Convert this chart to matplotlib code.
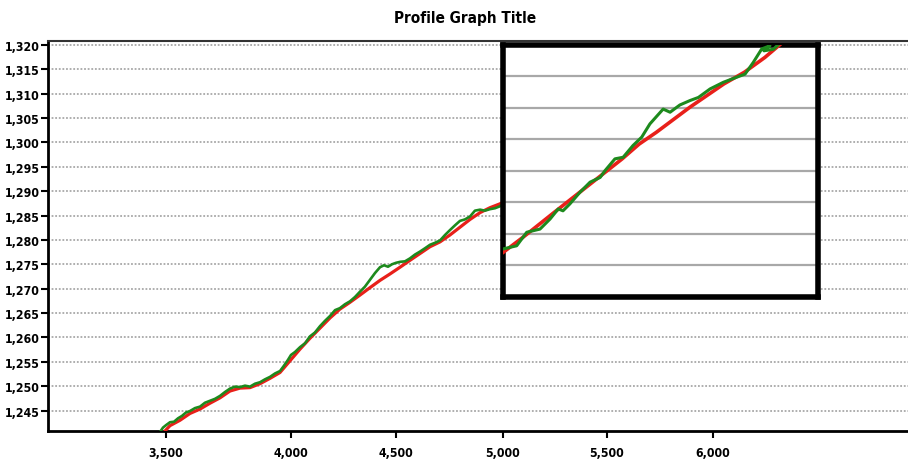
import numpy as np
import matplotlib
matplotlib.use("Agg")
import matplotlib.pyplot as plt
from matplotlib.ticker import FuncFormatter

# ---------------- data ----------------
title = "Profile Graph Title"
x_ticks = [3500, 4000, 4500, 5000, 5500, 6000]
y_ticks = [1245, 1250, 1255, 1260, 1265, 1270, 1275, 1280, 1285, 1290,
           1295, 1300, 1305, 1310, 1315, 1320]

green_x = [3476, 3488, 3500, 3516, 3532, 3548, 3564, 3580, 3596, 3616, 3636,
           3656, 3676, 3696, 3716, 3736, 3756, 3776, 3796, 3816, 3836, 3856,
           3876, 3896, 3916, 3936, 3956, 3972, 3988, 4000, 4019, 4043, 4067,
           4090, 4114, 4138, 4162, 4186, 4210, 4233, 4257, 4281, 4305, 4329,
           4352, 4376, 4400, 4424, 4443, 4462, 4481, 4500, 4519, 4542, 4565,
           4589, 4612, 4636, 4659, 4682, 4706, 4729, 4752, 4776, 4799, 4822,
           4846, 4869, 4893, 4916, 4939, 4963, 4986, 5033, 5079]
green_y = [1240.6, 1241.5, 1242.0, 1242.6, 1242.7, 1243.4, 1243.9, 1244.6,
           1244.9, 1245.5, 1245.8, 1246.6, 1247.0, 1247.4, 1248.0, 1248.8,
           1249.5, 1249.9, 1249.8, 1250.1, 1249.9, 1250.5, 1250.8, 1251.4,
           1251.9, 1252.6, 1253.1, 1254.2, 1255.4, 1256.4, 1257.0, 1258.0,
           1258.8, 1260.2, 1261.0, 1262.3, 1263.4, 1264.4, 1265.6, 1266.0,
           1266.8, 1267.4, 1268.3, 1269.4, 1270.4, 1271.8, 1273.2, 1274.4,
           1274.8, 1274.5, 1275.0, 1275.3, 1275.5, 1275.6, 1276.2, 1277.0,
           1277.6, 1278.3, 1279.0, 1279.4, 1279.9, 1281.0, 1282.0, 1283.0,
           1283.9, 1284.2, 1284.8, 1286.0, 1286.2, 1286.0, 1286.3, 1286.5,
           1286.9, 1288.0, 1289.5]

red_x = [3496, 3516, 3556, 3596, 3636, 3676, 3716, 3756, 3796, 3836, 3876,
         3916, 3956, 3996, 4043, 4090, 4138, 4186, 4233, 4281, 4329, 4376,
         4424, 4471, 4519, 4565, 4612, 4659, 4706, 4752, 4799, 4846, 4893,
         4939, 4986, 5079]
red_y = [1240.8, 1241.9, 1243.0, 1244.4, 1245.3, 1246.5, 1247.6, 1249.0,
         1249.6, 1249.7, 1250.5, 1251.6, 1252.8, 1255.2, 1257.6, 1259.8,
         1261.9, 1264.0, 1265.8, 1267.2, 1268.7, 1270.2, 1271.7, 1273.0,
         1274.4, 1275.8, 1277.2, 1278.6, 1279.6, 1281.0, 1282.6, 1284.2,
         1285.6, 1286.6, 1287.4, 1289.6]

# inset (zoomed view, own units)
inset_grid = [1, 2, 3, 4, 5, 6, 7]
inset_green_x = [0.2, 4.5, 7.7, 11.9, 15.1, 17.7, 19.2, 21.4, 24.6, 27.8, 31.0,
                 32.5, 35.7, 38.3, 41.4, 44.2, 46.8, 51.0, 53.2, 56.3, 59.5,
                 62.2, 65.9, 70.1, 74.3, 77.0, 79.6, 82.3, 84.9, 83.0, 86.0, 88.1]
inset_green_y = [1.51, 1.61, 2.04, 2.14, 2.46, 2.78, 2.72, 2.94, 3.31, 3.63,
                 3.78, 3.99, 4.37, 4.42, 4.79, 5.06, 5.48, 5.95, 5.85, 6.08,
                 6.22, 6.32, 6.59, 6.80, 6.96, 7.06, 7.43, 7.86, 7.96, 7.80,
                 7.85, 8.05]
inset_red_x = [0.2, 6.5, 16.4, 27.2, 38.0, 43.4, 48.8, 59.5, 70.3, 76.8, 83.3, 88.7]
inset_red_y = [1.40, 1.88, 2.67, 3.52, 4.37, 4.84, 5.21, 6.01, 6.75, 7.12, 7.59, 8.05]

# ---------------- x scale (non-uniform, as in the original image) ----------------
knot_data = np.array([0, 3500, 4000, 4500, 5000, 5500, 6000, 20000], float)
knot_px = np.array([-709, 166, 291, 396, 503, 607, 713, 3681], float)

def fwd(v):
    return np.interp(v, knot_data, knot_px)

def inv(p):
    return np.interp(p, knot_px, knot_data)

plt.rcParams['font.family'] = ['DejaVu Sans']
plt.rcParams['font.stretch'] = 'condensed'

fig = plt.figure(figsize=(9.08, 4.6), dpi=100)
W, H = 908, 460
ax = fig.add_axes([48 / W, 1 - 432 / H, (W - 48) / W, 390 / H])
ax.set_xscale('function', functions=(fwd, inv))
ax.set_xlim(3028, 6920)
ax.set_ylim(1240.8, 1320.8)

ax.set_xticks(x_ticks)
ax.set_yticks(y_ticks)
fmt = FuncFormatter(lambda v, p: f"{int(round(v)):,}")
ax.xaxis.set_major_formatter(fmt)
ax.yaxis.set_major_formatter(fmt)
ax.xaxis.set_minor_locator(matplotlib.ticker.NullLocator())
ax.tick_params(axis='both', direction='out', length=5, width=1.5, color='black',
               labelsize=8.8)
ax.tick_params(axis='y', pad=1)
ax.tick_params(axis='x', pad=6)
for lab in ax.get_xticklabels() + ax.get_yticklabels():
    lab.set_fontweight('bold')
    lab.set_fontstretch('condensed')

ax.grid(axis='y', color='#a8a8a8', linestyle=(0, (1, 1)), linewidth=1.3)
ax.grid(axis='x', visible=False)
ax.set_axisbelow(True)
for s in ['left', 'bottom']:
    ax.spines[s].set_linewidth(2)
    ax.spines[s].set_color('black')
ax.spines['top'].set_linewidth(1.5)
ax.spines['top'].set_color('#333333')
ax.spines['right'].set_visible(False)

ax.plot(red_x, red_y, color='#e8201a', lw=2.3, solid_capstyle='round', zorder=3)
ax.plot(green_x, green_y, color='#1d8a1d', lw=1.9, solid_capstyle='round', zorder=4)

fig.text(465 / W, 1 - 18 / H, title, ha='center', va='center', fontsize=11,
         fontweight='bold', fontstretch='condensed', color='black')

# ---------------- inset ----------------
axi = fig.add_axes([502.5 / W, 1 - 297.5 / H, 315 / W, 252 / H], zorder=10)
axi.set_facecolor('white')
axi.set_xlim(0, 100)
axi.set_ylim(0, 8)
axi.set_xticks([])
axi.set_yticks([])
for yv in inset_grid:
    axi.axhline(yv, color='#a8a8a8', lw=1.6, zorder=1)
for s in axi.spines.values():
    s.set_linewidth(4)
    s.set_color('black')
axi.plot(inset_red_x, inset_red_y, color='#e8201a', lw=2.6, zorder=3)
axi.plot(inset_green_x, inset_green_y, color='#1d8a1d', lw=2.2, zorder=4)

fig.savefig('out.png', dpi=100)
